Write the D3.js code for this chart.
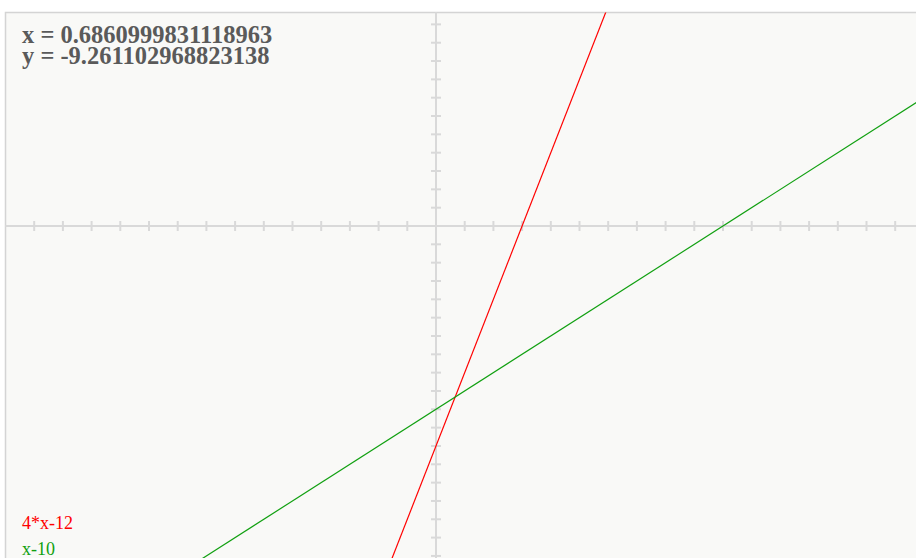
<!DOCTYPE html>
<html>
<head>
<meta charset="utf-8">
<script src="https://cdn.jsdelivr.net/npm/d3@7"></script>
<style>
  body { margin: 0; background: #fff; }
  svg { display: block; }
</style>
</head>
<body>
<div id="svg-container"></div>
<script>
// plotted expressions: y = slope * x + intercept
const exprLabels = ['4*x-12', 'x-10'];
const slopes = [4, 1];
const intercepts = [-12, -10];
const lineColors = ['#ff0000', '#11a011'];

// cursor readout shown in the corner
const readout = ['x = 0.6860999831118963', 'y = -9.261102968823138'];

// tick values (one per unit)
const xTicks = d3.range(-14, 17).filter(v => v !== 0);
const yTicks = d3.range(-18, 12).filter(v => v !== 0);

const w = 916;
const h = 558;
const plotLeft = 5.5;
const plotTop = 12.5;

const svg = d3.select('#svg-container')
  .append('svg')
  .attr('width', w)
  .attr('height', h);

const xScale = d3.scaleLinear()
  .domain([-15, 17])
  .range([plotLeft, plotLeft + 32 * 28.7]);
const yScale = d3.scaleLinear()
  .domain([-18.5, 11.65])
  .range([226 + 18.5 * 18.33, 226 - 11.65 * 18.33]);

svg.append('rect')
  .attr('x', plotLeft)
  .attr('y', plotTop)
  .attr('width', w + 20)
  .attr('height', h + 20)
  .attr('fill', '#f9f9f7')
  .attr('stroke', '#d4d4d4')
  .attr('stroke-width', 1.5);

const axisColor = '#d9d9d9';
// x axis
svg.append('line')
  .attr('x1', plotLeft).attr('x2', w)
  .attr('y1', yScale(0)).attr('y2', yScale(0))
  .attr('stroke', axisColor).attr('stroke-width', 2);
svg.append('g').selectAll('line')
  .data(xTicks)
  .enter()
  .append('line')
  .attr('x1', d => xScale(d)).attr('x2', d => xScale(d))
  .attr('y1', yScale(0) - 5).attr('y2', yScale(0) + 5)
  .attr('stroke', axisColor).attr('stroke-width', 2);
// y axis
svg.append('line')
  .attr('x1', xScale(0)).attr('x2', xScale(0))
  .attr('y1', plotTop).attr('y2', h)
  .attr('stroke', axisColor).attr('stroke-width', 2);
svg.append('g').selectAll('line')
  .data(yTicks)
  .enter()
  .append('line')
  .attr('x1', xScale(0) - 5).attr('x2', xScale(0) + 5)
  .attr('y1', d => yScale(d)).attr('y2', d => yScale(d))
  .attr('stroke', axisColor).attr('stroke-width', 2);

// function lines
const [x0, x1] = xScale.domain();
const line = d3.line().x(d => xScale(d[0])).y(d => yScale(d[1]));
svg.append('clipPath').attr('id', 'plot-clip')
  .append('rect')
  .attr('x', plotLeft).attr('y', plotTop)
  .attr('width', w).attr('height', h);
svg.append('g')
  .attr('clip-path', 'url(#plot-clip)')
  .selectAll('path')
  .data(slopes)
  .enter()
  .append('path')
  .attr('d', (m, i) => line([[x0, m * x0 + intercepts[i]], [x1, m * x1 + intercepts[i]]]))
  .attr('fill', 'none')
  .attr('stroke', (m, i) => lineColors[i])
  .attr('stroke-width', 1.2);

// readout
svg.append('g')
  .selectAll('text')
  .data(readout)
  .enter()
  .append('text')
  .attr('x', 22)
  .attr('y', (d, i) => 43 + i * 21)
  .attr('font-family', '"Liberation Serif", serif')
  .attr('font-size', 24.5)
  .attr('font-weight', 'bold')
  .attr('fill', '#5a5a5a')
  .text(d => d);

// legend
svg.append('g')
  .selectAll('text')
  .data(exprLabels)
  .enter()
  .append('text')
  .attr('x', 22)
  .attr('y', (d, i) => 528.5 + i * 26.5)
  .attr('font-family', '"Liberation Serif", serif')
  .attr('font-size', 18)
  .attr('fill', (d, i) => lineColors[i])
  .text(d => d);
</script>
</body>
</html>
